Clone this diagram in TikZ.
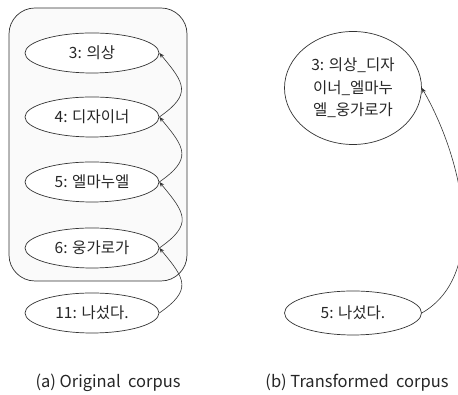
\documentclass[tikz,border=0pt]{standalone}
\usepackage{fontspec}
\setmainfont{Noto Sans CJK KR}
\usetikzlibrary{shapes.geometric,arrows.meta}
\begin{document}
\begin{tikzpicture}[x=1pt,y=1pt,
  tok/.style={draw=black!80,fill=white,ellipse,line width=0.7pt,minimum width=134pt,minimum height=40pt,inner sep=0pt,font=\fontsize{15.5}{18}\selectfont,text=black!85},
  link/.style={draw=black!80,line width=0.6pt,-{Stealth[length=5pt,width=4pt]}},
  captext/.style={font=\fontsize{16.5}{18}\selectfont,text=black!85}]
\useasboundingbox (0,0) rectangle (458,395);
\draw[draw=black!80,fill=black!2,line width=0.7pt,rounded corners=26pt] (9,387) rectangle (187,114);
\node[tok] (n3) at (92,342) {3: 의상};
\node[tok] (n4) at (92,278) {4: 디자이너};
\node[tok] (n5) at (92,213) {5: 엘마누엘};
\node[tok] (n6) at (92,147) {6: 웅가로가};
\node[tok] (n11) at (92,82) {11: 나섰다.};
\node[captext] (ca) at (108,12) {(a) Original\ \ corpus};
\node[tok,minimum width=137pt,minimum height=113pt,align=center,font=\fontsize{15.5}{22.5}\selectfont] (m3) at (353,307) {3: 의상\_디자\\이너\_엘마누\\엘\_웅가로가};
\node[tok,minimum width=137pt,minimum height=44pt] (m5) at (353,82) {5: 나섰다.};
\node[captext] (cb) at (357,12) {(b) Transformed\ \ corpus};
\draw[link] (n4.east) to[out=35,in=-50,looseness=1.6] (n3.east);
\draw[link] (n5.east) to[out=35,in=-50,looseness=1.6] (n4.east);
\draw[link] (n6.east) to[out=35,in=-50,looseness=1.6] (n5.east);
\draw[link] (n11.east) to[out=35,in=-50,looseness=1.6] (n6.east);
\draw[link] (m5.east) to[out=30,in=-60,looseness=0.9] (m3.east);
\end{tikzpicture}
\end{document}
